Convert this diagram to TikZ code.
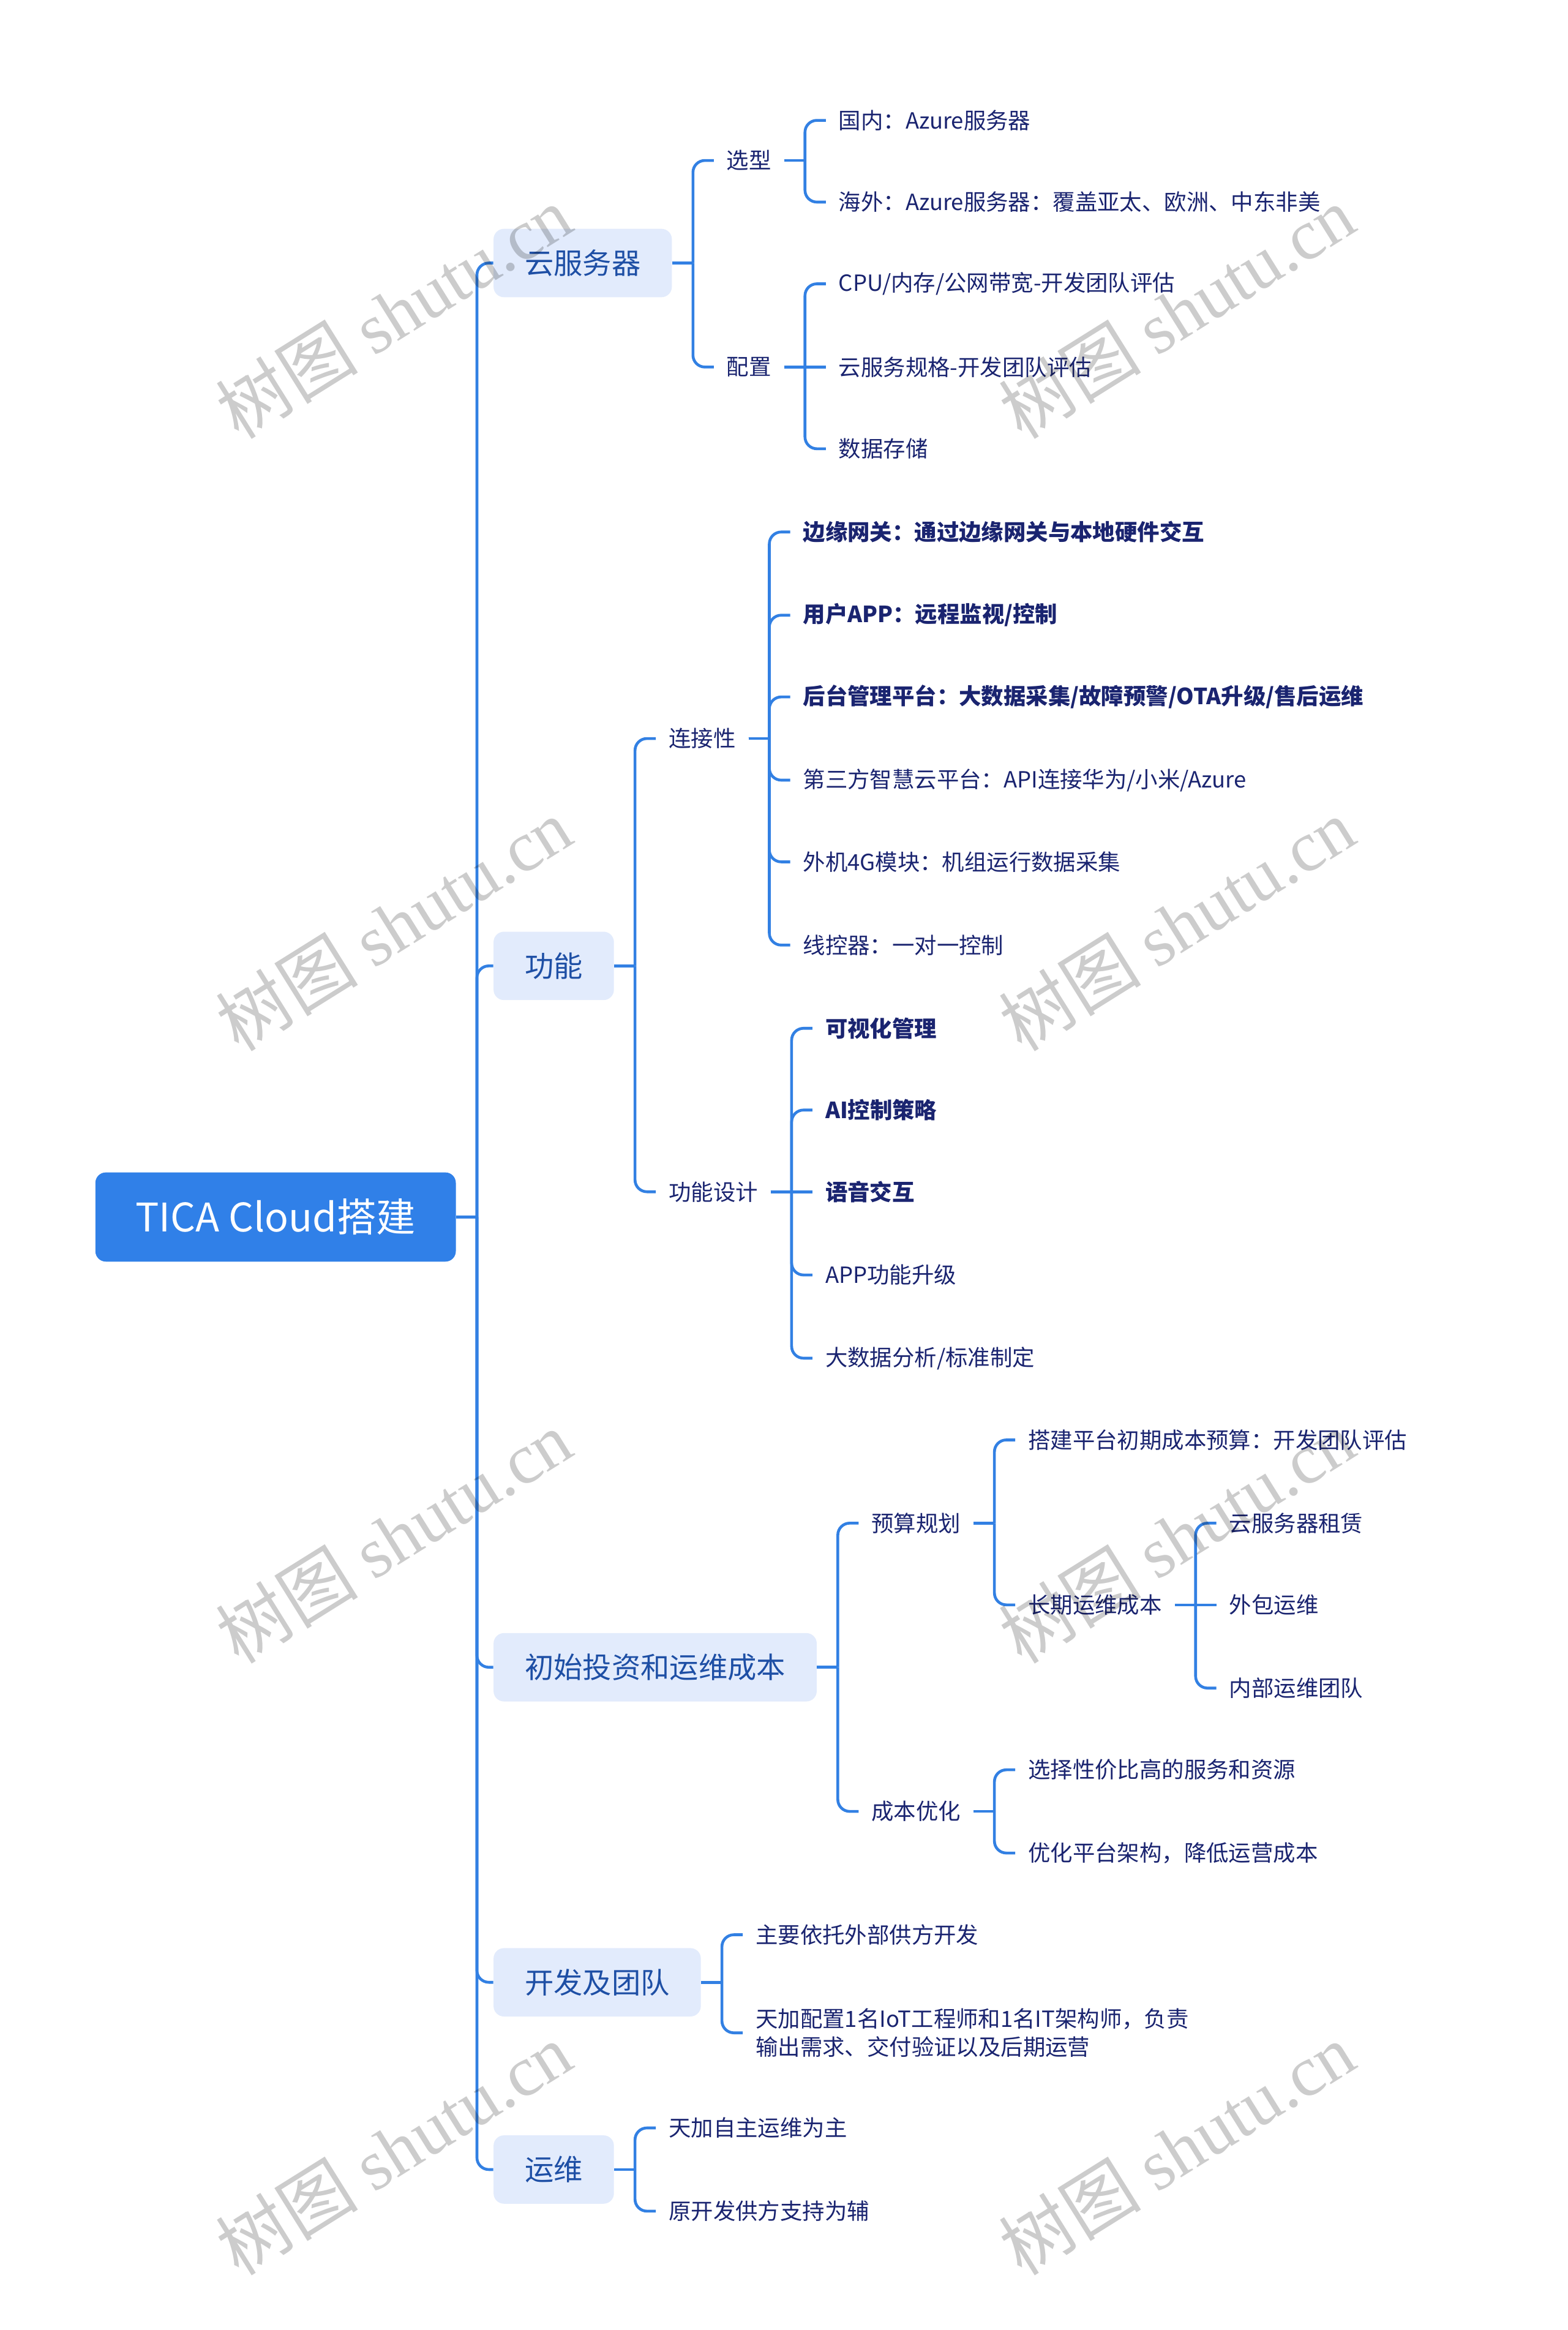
\documentclass[tikz,border=0pt]{standalone}
\usepackage{fontspec}
\setmainfont{Noto Sans CJK SC}
\newfontfamily\wmlat{Liberation Serif}
\usetikzlibrary{calc}
\definecolor{lineblue}{HTML}{3280E3}
\definecolor{rootfill}{HTML}{3080E8}
\definecolor{lonefill}{HTML}{E2EBFC}
\definecolor{lonetext}{HTML}{1E4FA5}
\definecolor{leaftext}{HTML}{1A2470}
\tikzset{
  conn/.style={draw=lineblue, line width=1.9pt, rounded corners=8pt},
  connS/.style={draw=lineblue, line width=1.9pt},
  rootbox/.style={fill=rootfill, rounded corners=7pt, text=white, font=\fontsize{26.5}{30}\selectfont, inner xsep=27pt, minimum height=60pt, anchor=west},
  lvone/.style={fill=lonefill, rounded corners=7pt, text=lonetext, font=\fontsize{19.5}{23}\selectfont, inner xsep=21pt, minimum height=46pt, anchor=west},
  leaf/.style={text=leaftext, font=\fontsize{15}{19}\selectfont, inner xsep=8.5pt, inner ysep=2pt, anchor=west},
  leafb/.style={leaf, font=\fontsize{15}{19}\selectfont\bfseries},
  wm/.style={rotate=32, text=black, text opacity=0.2, font=\fontsize{48}{48}\selectfont},
}
% parent, name, y, style, text
\newcommand{\mmkid}[5]{%
  \path ([xshift=28pt]#1.east) coordinate (tx#2);
  \path (0,#3) coordinate (ty#2);
  \node[#4] (#2) at (tx#2 |- ty#2) {#5};
  \draw[connS] (#1.east) -- ([xshift=14pt]#1.east);
  \draw[conn] ([xshift=14pt]#1.east) |- (#2.west);
}
\newcommand{\mmkidS}[4]{%
  \path ([xshift=28pt]#1.east) coordinate (tx#2);
  \node[#3] (#2) at (tx#2) {#4};
  \draw[connS] (#1.east) -- (#2.west);
}
\begin{document}
\begin{tikzpicture}[x=1pt, y=-1pt]
\fill[white] (0,0) rectangle (1055,1568);
\useasboundingbox (0,0) rectangle (1055,1568);

\node[rootbox] (root) at (64,819) {TICA Cloud搭建};

\node[lvone] (yun) at (332,177) {云服务器};
\node[lvone] (gn) at (332,650) {功能};
\node[lvone] (tz) at (332,1122) {初始投资和运维成本};
\node[lvone] (kf) at (332,1334) {开发及团队};
\node[lvone] (yw) at (332,1460) {运维};
\draw[connS] (root.east) -- ([xshift=14pt]root.east);
\foreach \n in {yun,gn,tz,kf,yw}{
  \draw[conn] ([xshift=14pt]root.east) |- (\n.west);
}

% 云服务器
\mmkid{yun}{xx}{108}{leaf}{选型}
\mmkid{yun}{pz}{247}{leaf}{配置}
\mmkid{xx}{xa}{81}{leaf}{国内：Azure服务器}
\mmkid{xx}{xb}{136}{leaf}{海外：Azure服务器：覆盖亚太、欧洲、中东非美}
\mmkid{pz}{pa}{191}{leaf}{CPU/内存/公网带宽-开发团队评估}
\mmkidS{pz}{pb}{leaf}{云服务规格-开发团队评估}
\mmkid{pz}{pc}{302}{leaf}{数据存储}

% 功能
\mmkid{gn}{lj}{497}{leaf}{连接性}
\mmkid{gn}{sj}{802}{leaf}{功能设计}
\mmkid{lj}{la}{358}{leafb}{边缘网关：通过边缘网关与本地硬件交互}
\mmkid{lj}{lb}{414}{leafb}{用户APP：远程监视/控制}
\mmkid{lj}{lc}{469}{leafb}{后台管理平台：大数据采集/故障预警/OTA升级/售后运维}
\mmkid{lj}{ld}{525}{leaf}{第三方智慧云平台：API连接华为/小米/Azure}
\mmkid{lj}{le}{580}{leaf}{外机4G模块：机组运行数据采集}
\mmkid{lj}{lf}{636}{leaf}{线控器：一对一控制}
\mmkid{sj}{sa}{692}{leafb}{可视化管理}
\mmkid{sj}{sb}{747}{leafb}{AI控制策略}
\mmkidS{sj}{sc}{leafb}{语音交互}
\mmkid{sj}{sd}{858}{leaf}{APP功能升级}
\mmkid{sj}{se}{914}{leaf}{大数据分析/标准制定}

% 初始投资和运维成本
\mmkid{tz}{ys}{1025}{leaf}{预算规划}
\mmkid{tz}{yh}{1219}{leaf}{成本优化}
\mmkid{ys}{ya}{969}{leaf}{搭建平台初期成本预算：开发团队评估}
\mmkid{ys}{cq}{1080}{leaf}{长期运维成本}
\mmkid{cq}{ca}{1025}{leaf}{云服务器租赁}
\mmkidS{cq}{cb}{leaf}{外包运维}
\mmkid{cq}{cc}{1136}{leaf}{内部运维团队}
\mmkid{yh}{ha}{1191}{leaf}{选择性价比高的服务和资源}
\mmkid{yh}{hb}{1247}{leaf}{优化平台架构，降低运营成本}

% 开发及团队
\mmkid{kf}{ka}{1302}{leaf}{主要依托外部供方开发}
\mmkid{kf}{kb}{1368}{leaf, align=left}{天加配置1名IoT工程师和1名IT架构师，负责\\输出需求、交付验证以及后期运营}

% 运维
\mmkid{yw}{wa}{1432}{leaf}{天加自主运维为主}
\mmkid{yw}{wb}{1488}{leaf}{原开发供方支持为辅}

% watermark
\foreach \wx [count=\i] in {265,792}{
  \foreach \wy [count=\j] in {210,622,1034,1446}{
    \node[wm] (wm\i\j) at (\wx,\wy) {树图 {\wmlat shutu.cn}};
  }
}
\end{tikzpicture}
\end{document}
